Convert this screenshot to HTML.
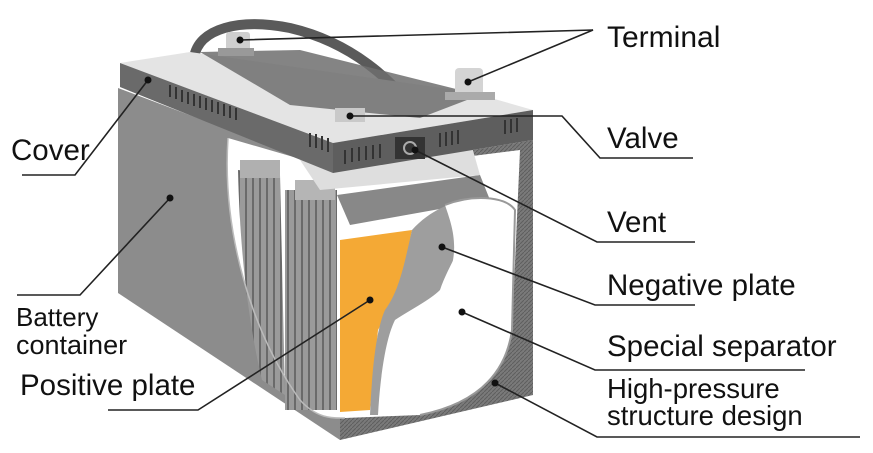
<!DOCTYPE html>
<html><head><meta charset="utf-8"><style>
html,body{margin:0;padding:0;background:#fff}
svg{display:block}
text{font-family:"Liberation Sans","Noto Sans CJK JP",sans-serif;fill:#111}
</style></head><body>
<svg width="873" height="453" viewBox="0 0 873 453" xmlns="http://www.w3.org/2000/svg">
<defs>
<pattern id="hatch" width="4" height="4" patternUnits="userSpaceOnUse">
<rect width="4" height="4" fill="#7a7a7a"/><path d="M0 4L4 0" stroke="#5e5e5e" stroke-width="1"/>
</pattern>
<pattern id="stripes" width="7" height="10" patternUnits="userSpaceOnUse">
<rect width="7" height="10" fill="#9a9a9a"/><rect width="2" height="10" fill="#6a6a6a"/>
</pattern>
</defs>
<polygon points="118,88 340,172 340,440 118,293" fill="#8c8c8c"/>
<polygon points="340,172 533,140 533,395 340,440" fill="url(#hatch)"/>
<path d="M228,138 C222,230 250,330 300,400 C318,420 335,418 345,418 L420,415 C470,400 500,380 512,330 L520,150 L345,172 Z" fill="#fff"/>
<path d="M238,170 L280,175 L285,395 L262,380 C250,330 240,260 238,170Z" fill="url(#stripes)"/>
<rect x="285" y="190" width="52" height="220" fill="url(#stripes)"/>
<rect x="240" y="160" width="40" height="18" fill="#b0b0b0"/>
<rect x="295" y="180" width="40" height="20" fill="#b5b5b5"/>
<polygon points="337,195 480,175 490,200 350,225" fill="#888"/>
<polygon points="300,160 470,140 480,175 320,190" fill="#dedede"/>
<polygon points="340,240 412,230 400,290 378,330 370,410 340,412" fill="#f4a935"/>
<path d="M412,230 C430,210 455,200 470,200 C470,240 450,260 440,290 C430,300 410,310 395,320 C385,340 380,380 378,415 L370,415 C372,370 376,330 385,310 C400,290 405,260 412,230Z" fill="#9e9e9e"/>
<path d="M445,205 C470,195 505,195 515,210 L512,330 C505,380 470,405 420,415 L385,415 C385,370 390,330 405,320 C430,305 445,290 452,265 C458,240 450,220 445,205Z" fill="#fff"/>
<path d="M445,205 C470,195 505,195 515,210 L512,330 C505,380 470,405 420,415" fill="none" stroke="#999" stroke-width="2"/>
<path d="M228,138 C222,230 250,330 300,400 C318,420 335,418 345,418" fill="none" stroke="#bbb" stroke-width="1.5"/>
<path d="M194,58 C198,28 240,18 290,28 C350,42 395,80 418,118" fill="none" stroke="#5a5a5a" stroke-width="10"/>
<polygon points="120,63 190,52 470,92 533,110 333,143" fill="#e4e4e4"/>
<polygon points="200,52 300,50 480,95 420,118 290,105" fill="#6e6e6e" opacity="0.85"/>
<polygon points="120,63 333,143 333,173 120,87" fill="#6a6a6a"/>
<polygon points="333,143 533,110 533,140 333,173" fill="#5e5e5e"/>
<g stroke="#333" stroke-width="2">
<path d="M170,85v12M176,87v12M182,90v12M188,92v12M194,94v12M200,96v12M206,98v12M212,100v12M218,102v12M224,104v12M230,106v12M236,108v12"/>
<path d="M310,133v14M316,134v14M322,136v14M328,138v14M345,150v14M352,148v14M359,147v14M366,146v14M373,145v14M380,144v14"/>
<path d="M440,133v14M446,132v14M452,131v14M458,130v14M505,120v14M511,119v14M517,118v14"/>
</g>
<rect x="395" y="137" width="30" height="22" fill="#333"/>
<circle cx="410" cy="148" r="6" fill="none" stroke="#aaa" stroke-width="2"/>
<rect x="226" y="32" width="24" height="20" rx="3" fill="#cfcfcf"/>
<rect x="218" y="48" width="36" height="8" fill="#999"/>
<rect x="455" y="68" width="28" height="28" rx="4" fill="#d4d4d4"/>
<rect x="445" y="92" width="50" height="8" fill="#aaa"/>
<rect x="335" y="108" width="30" height="14" fill="#c9c9c9"/>
<g stroke="#222" stroke-width="1.6" fill="none">
<polyline points="240,40 593,30 468,82"/>
<polyline points="350,116 562,116 600,158 693,158"/>
<polyline points="415,150 597,242 695,242"/>
<polyline points="442,247 595,305 695,305"/>
<polyline points="462,312 595,370 805,370"/>
<polyline points="495,383 597,437 860,437"/>
<polyline points="148,80 75,175 22,175"/>
<polyline points="170,198 80,295 17,295"/>
<polyline points="370,300 198,410 108,410"/>
</g>
<g fill="#111">
<circle cx="240" cy="40" r="3.5"/><circle cx="468" cy="82" r="3.5"/><circle cx="350" cy="116" r="3.5"/>
<circle cx="415" cy="150" r="3.5"/><circle cx="442" cy="247" r="3.5"/><circle cx="462" cy="312" r="3.5"/>
<circle cx="495" cy="383" r="3.5"/><circle cx="148" cy="80" r="3.5"/><circle cx="170" cy="198" r="3.5"/>
<circle cx="370" cy="300" r="3.5"/>
</g>
<text x="607" y="47" font-size="30">Terminal</text>
<text x="607" y="148" font-size="29.5">Valve</text>
<text x="607" y="232" font-size="29.5">Vent</text>
<text x="607" y="295" font-size="29.5">Negative plate</text>
<text x="607" y="356" font-size="29.5">Special separator</text>
<text x="607" y="398" font-size="27.5">High-pressure</text>
<text x="607" y="425" font-size="27.5">structure design</text>
<text x="11" y="160" font-size="29.5">Cover</text>
<text x="16" y="326" font-size="26">Battery</text>
<text x="16" y="354" font-size="27">container</text>
<text x="20" y="395" font-size="29.5">Positive plate</text>
</svg>
</body></html>
